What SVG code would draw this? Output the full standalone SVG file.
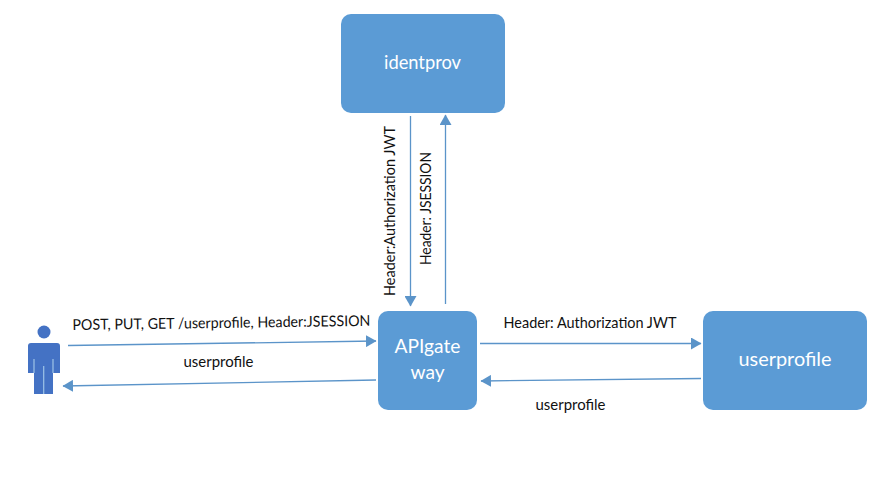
<svg xmlns="http://www.w3.org/2000/svg" width="885" height="502" viewBox="0 0 885 502">
<style>
text{font-family:"Lato","Carlito","Liberation Sans",sans-serif}
.box{fill:#5b9bd5}
.nl{fill:#fff;font-size:20px;text-anchor:middle}
.el{fill:#111;font-size:15px}
.c{fill:none;stroke:#5b94c9;stroke-width:1.3;marker-end:url(#a)}
</style>
<defs><marker id="a" markerUnits="userSpaceOnUse" markerWidth="11" markerHeight="12" refX="10" refY="6" orient="auto"><path d="M0 0L10.500 6L0 12Z" fill="#5b94c9"/></marker></defs>
<rect width="885" height="502" fill="#fff"/>
<g id="connectors">
<path class="c" d="M68 345.500L376 341"/>
<path class="c" d="M376 380L63 386"/>
<path class="c" d="M480 343.500L701 343.500"/>
<path class="c" d="M701 378.500L481 381"/>
<path class="c" d="M410.500 116L410.500 306"/>
<path class="c" d="M445.500 304L445.500 115"/>
</g>
<g id="user">
<circle cx="44" cy="332" r="6.500" fill="#4472c4"/>
<path d="M31 343H57Q60 343 60 346V373H53V394H34V373H28V346Q28 343 31 343Z" fill="#4472c4"/>
<path d="M34 359V373M43.700 366V394M53 359V373" stroke="#9dc3e6" stroke-width="1.200" fill="none"/>
</g>
<g id="identprov"><rect class="box" x="341" y="14" width="164" height="99" rx="10"/><text class="nl" x="422.500" y="69" textLength="77" lengthAdjust="spacingAndGlyphs">identprov</text></g>
<g id="apigateway"><rect class="box" x="378" y="311" width="99" height="99" rx="10"/><text class="nl" x="427.500" y="353" textLength="66" lengthAdjust="spacingAndGlyphs">APIgate</text><text class="nl" x="427.500" y="379" textLength="34" lengthAdjust="spacingAndGlyphs">way</text></g>
<g id="userprofile"><rect class="box" x="703" y="311" width="164" height="99" rx="10"/><text class="nl" x="785" y="366" textLength="93" lengthAdjust="spacingAndGlyphs">userprofile</text></g>
<g id="labels">
<text class="el" x="72.500" y="330" textLength="298" lengthAdjust="spacingAndGlyphs" transform="rotate(-0.8 72.500 330)">POST, PUT, GET /userprofile, Header:JSESSION</text>
<text class="el" x="183.500" y="367" textLength="70" lengthAdjust="spacingAndGlyphs">userprofile</text>
<text class="el" x="503.500" y="328" textLength="173" lengthAdjust="spacingAndGlyphs">Header: Authorization JWT</text>
<text class="el" x="535.500" y="410" textLength="70" lengthAdjust="spacingAndGlyphs">userprofile</text>
<text class="el" x="395" y="296" textLength="170" lengthAdjust="spacingAndGlyphs" transform="rotate(-90 395 296)">Header:Authorization JWT</text>
<text class="el" x="431" y="265" textLength="113" lengthAdjust="spacingAndGlyphs" transform="rotate(-90 431 265)">Header: JSESSION</text>
</g>
</svg>
